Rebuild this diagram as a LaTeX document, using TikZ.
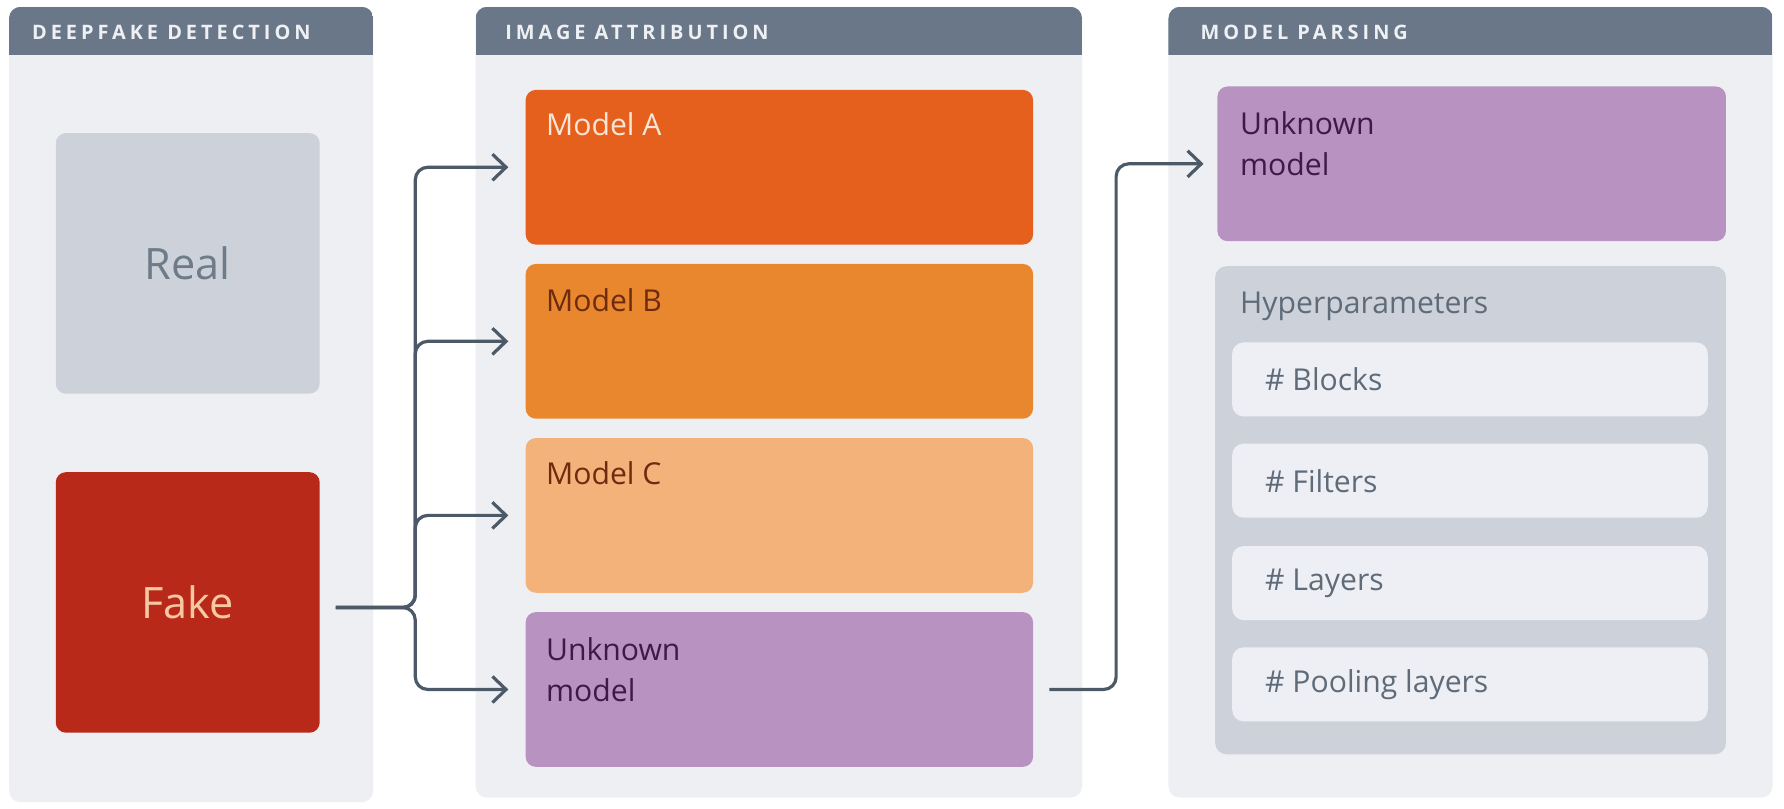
\documentclass[tikz,border=0pt]{standalone}
\usepackage{fontspec}
\setmainfont{Open Sans}
\newfontfamily\hdrfont[LetterSpace=20]{Open Sans}
\usetikzlibrary{arrows.meta,calc}
\definecolor{panelbg}{HTML}{EEEFF3}
\definecolor{hdrbg}{HTML}{6A7789}
\definecolor{hdrtext}{HTML}{EEF0F4}
\definecolor{realc}{HTML}{CDD2DA}
\definecolor{realt}{HTML}{6E7B88}
\definecolor{fakec}{HTML}{B9291A}
\definecolor{faket}{HTML}{F6C9A3}
\definecolor{mac}{HTML}{E5601C}
\definecolor{mat}{HTML}{FCE4D6}
\definecolor{mbc}{HTML}{E9872F}
\definecolor{mcc}{HTML}{F2B27A}
\definecolor{brownt}{HTML}{6E2B10}
\definecolor{ukc}{HTML}{B893C2}
\definecolor{ukt}{HTML}{3F1947}
\definecolor{hypc}{HTML}{CDD2DA}
\definecolor{hypt}{HTML}{5F6B79}
\definecolor{itemc}{HTML}{EDEFF4}
\definecolor{connc}{HTML}{4C5966}
\begin{document}
\begin{tikzpicture}[x=1pt,y=-1pt,
  box/.style={rectangle, rounded corners=9pt, inner sep=0pt, draw=none},
  lbl/.style={anchor=north west, inner sep=0pt, align=left, font=\fontsize{26.5}{36}\selectfont},
  hdrtxt/.style={anchor=west, inner sep=0pt, text=hdrtext, font=\hdrfont\bfseries\fontsize{17.5}{20}\selectfont},
  conn/.style={draw=connc, line width=2.8pt, rounded corners=11pt, -{Straight Barb[length=12pt,width=23pt]}},
  itembox/.style={box, fill=itemc, minimum width=418pt, minimum height=65pt, rounded corners=10pt},
  itemtxt/.style={anchor=west, inner sep=0pt, text=hypt, font=\fontsize{26.5}{30}\selectfont},
  bigbox/.style={box, minimum width=232pt, minimum height=229pt, font=\fontsize{38}{42}\selectfont},
]
\useasboundingbox (0,0) rectangle (1568,711);
\fill[white] (0,0) rectangle (1568,711);

% ---- panels ----
\fill[panelbg, rounded corners=10pt] (8,6) rectangle (328,705);
\begin{scope}
  \clip[rounded corners=10pt] (8,6) rectangle (328,705);
  \fill[hdrbg] (8,6) rectangle (328,48);
\end{scope}
\node[hdrtxt] (h1) at (28,28.5) {DEEPFAKE DETECTION};

\fill[panelbg, rounded corners=10pt] (418,6) rectangle (951,701);
\begin{scope}
  \clip[rounded corners=10pt] (418,6) rectangle (951,701);
  \fill[hdrbg] (418,6) rectangle (951,48);
\end{scope}
\node[hdrtxt] (h2) at (444,28.5) {IMAGE ATTRIBUTION};

\fill[panelbg, rounded corners=10pt] (1027,6) rectangle (1558,701);
\begin{scope}
  \clip[rounded corners=10pt] (1027,6) rectangle (1558,701);
  \fill[hdrbg] (1027,6) rectangle (1558,48);
\end{scope}
\node[hdrtxt] (h3) at (1055,28.5) {MODEL PARSING};

% ---- deepfake detection ----
\node[bigbox, fill=realc, text=realt] (real) at (165,231.5) {Real};
\node[bigbox, fill=fakec, text=faket] (fake) at (165,529.5) {Fake};

% ---- image attribution ----
\node[box, fill=mac, minimum width=446pt, minimum height=136pt] (ma) at (685,147) {};
\node[box, fill=mbc, minimum width=446pt, minimum height=136pt] (mb) at (685,300) {};
\node[box, fill=mcc, minimum width=446pt, minimum height=136pt] (mc) at (685,453) {};
\node[box, fill=ukc, minimum width=446pt, minimum height=136pt] (uk) at (685,606) {};
\node[lbl, text=mat] (tma) at ($(ma.north west)+(18,20)$) {Model A};
\node[lbl, text=brownt] (tmb) at ($(mb.north west)+(18,22)$) {Model B};
\node[lbl, text=brownt] (tmc) at ($(mc.north west)+(18,21)$) {Model C};
\node[lbl, text=ukt] (tuk) at ($(uk.north west)+(18,22)$) {Unknown\\model};

% ---- model parsing ----
\node[box, fill=ukc, minimum width=447pt, minimum height=136pt] (pu) at (1293.5,144) {};
\node[lbl, text=ukt] (tpu) at ($(pu.north west)+(20,22)$) {Unknown\\model};
\node[box, fill=hypc, minimum width=449pt, minimum height=429pt, rounded corners=10pt] (hyp) at (1292.5,448.5) {};
\node[lbl, text=hypt] (thyp) at ($(hyp.north west)+(22,23)$) {Hyperparameters};
\node[itembox] (i1) at (1292,333.5) {};
\node[itembox] (i2) at (1292,422.5) {};
\node[itembox] (i3) at (1292,512.5) {};
\node[itembox] (i4) at (1292,601.5) {};
\node[itemtxt] (t1) at ($(i1.west)+(29,0)$) {\# Blocks};
\node[itemtxt] (t2) at ($(i2.west)+(29,0)$) {\# Filters};
\node[itemtxt] (t3) at ($(i3.west)+(29,0)$) {\# Layers};
\node[itemtxt] (t4) at ($(i4.west)+(29,0)$) {\# Pooling layers};

% ---- connectors ----
\coordinate (fs) at ($(fake.east)+(14,4.5)$);
\coordinate (ja) at (365,534);
\draw[conn, shorten >=15pt] (fs) -- (ja) |- (ma.west);
\draw[conn, shorten >=15pt] (fs) -- (ja) |- (mb.west);
\draw[conn, shorten >=15pt] (fs) -- (ja) |- (mc.west);
\draw[conn, shorten >=15pt] (fs) -- (ja) |- (uk.west);

\coordinate (us) at ($(uk.east)+(14,0)$);
\coordinate (jb) at (981,606);
\draw[conn, shorten >=12pt] (us) -- (jb) |- (pu.west);
\end{tikzpicture}
\end{document}
